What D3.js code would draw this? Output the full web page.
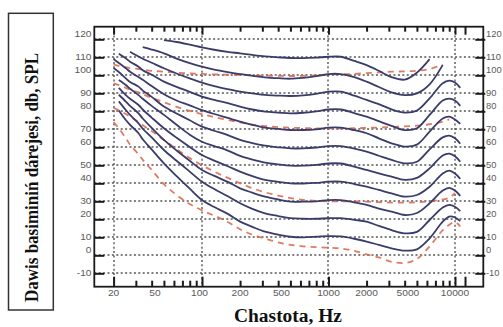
<!DOCTYPE html>
<html><head><meta charset="utf-8">
<script src="https://cdn.jsdelivr.net/npm/d3@7"></script>
<style>html,body{margin:0;padding:0;background:#fff;}svg{display:block}</style>
</head><body>
<svg id="chart" width="503" height="327"></svg>
<script>
// frequency grid (Hz)
const freqHz = [20,22,25,27,31.5,34,40,50,63,80,100,125,160,200,250,315,400,500,630,800,1000,1250,1600,2000,2500,3150,4000,5000,6300,8000,9000,10000,11000];
const _ = null;
// solid contours (dB SPL)
const phon110 = [_,_,_,_,_,_,_,119.6,118.5,117,115.5,114.2,113,112.2,111.3,110.5,110,109.6,109.5,109.8,110.3,110.3,108,105.7,102.5,99,97.6,101.5,109,_,_,_,_];
const phon100 = [_,_,_,_,_,115.6,114.3,112.2,109.3,106.8,104.8,103.2,101.8,100.7,99.7,98.9,98.4,98.1,98.6,99.5,100.7,100.7,99,96.5,93.5,90.5,89,90,95,105.8,_,_,_];
const phon90  = [_,_,_,113.1,110.4,109.2,107,103.9,101,98.3,95.9,94,92.3,90.9,90,89.1,88.7,88.5,88.8,89.7,90.9,90.9,88.7,86.3,84,81.1,79.3,80.4,87.2,95.6,97,96,93];
const phon80  = [_,112,109.4,107.5,104.8,102.8,100.3,96.5,93.6,90.8,88.1,86.3,84.5,82.6,81,79.8,79.3,78.9,79.2,80,81,81,79,77,74.5,71.9,69.6,70.6,78,86,87,86,83];
const phon70  = [109,106.8,103.9,102,99,97.5,94,89.5,86,83.3,80.7,78.5,76.3,74.3,72.5,70.9,70.2,69.6,69.6,70,70.9,70.9,69.5,67.8,65,62.2,60.4,61.5,68.7,76,77,75.5,73];
const phon60  = [104,101.8,98.3,96.3,93.7,91.5,88,82.6,78.8,75,71.5,69.2,66.8,64.1,62.3,60.9,60,59.4,59.4,59.9,60.7,60.7,59.3,57.6,55.3,53,51.1,52,58.9,65.5,66.5,65,62];
const phon50  = [_,97.4,94.6,92.5,89,87,83,78,72.5,67,63.1,60.7,58.2,55.2,53.2,51.5,50.5,49.8,49.8,50.2,51,51,49.3,47.4,45.5,43.7,41.9,43,48.3,55.5,56.5,55,52];
const phon40  = [_,93,89,87,83.5,81,76.5,70.6,65.3,60.2,55.7,52.6,49.5,46.5,44,41.9,40.8,40,39.9,40.2,40.9,40.9,39.6,38.1,36.3,34.4,32.6,33.5,38.1,45.5,47,45.5,42.5];
const phon30  = [_,89.2,85.4,83,78.9,76,70.8,64.1,58.2,52.5,47.4,44.1,40.8,37.2,34.8,32.6,31,29.8,29.8,30,30.7,30.7,29.4,28,26,24.3,22.4,23.5,28.9,36,37.5,36,33];
const phon20  = [_,85.5,80.7,78,73.3,70.3,65.5,58.5,52.5,46.5,40.9,36.8,32.8,28.9,25.8,23.3,21.8,20.6,20.3,20.3,20.6,20.6,19.7,18.7,16.3,14,12.2,13,19.6,26.5,28,27,24.5];
const phon10  = [_,80.5,75.2,72.5,67.8,64.5,58.8,51.1,44,37,30.7,26.8,23,18.7,15.8,13.1,11.5,10.3,10,10.3,10.7,10.5,9.2,7.6,5.8,3.9,2.6,3.3,9.4,18.7,21.5,21,19];
// dashed contours (dB SPL)
const dash100 = [106,105.2,104.5,104,103.5,103.2,102.5,102,101.5,101,100.8,100.5,100.3,100.2,100,99.8,99.7,99.6,99.7,100,100.5,100.6,100.8,101.2,101.6,102,102.2,102.5,103.5,105.8,_,_,_];
const dash70  = [95.5,94.5,93,92,90.5,89.5,87.5,85,82.5,80.2,78.5,76.8,75.2,73.8,72.6,71.8,71.2,70.9,70.7,70.5,70.5,70.5,70.6,70.8,71,71.3,71.6,72,72.8,74.3,75.5,_,_];
const dash30  = [82,80.5,78.5,77,74,72.3,69,64,59,54,50,46.5,43,40,37.3,35,33.2,31.8,30.8,30.2,30,30,30,29.8,29.5,29.3,29.3,29.5,30,31,32,34.5,_];
const dash0   = [74,70.5,65,61.5,56,53,47.5,39.5,33.5,28.5,25,22,18.5,14.5,11.5,9.3,7.2,5.8,5,4.5,4.2,3.8,2.5,0.5,-1.2,-3.6,-4.3,-2,5,14,17,18.5,16];

const solidSeries = [phon110,phon100,phon90,phon80,phon70,phon60,phon50,phon40,phon30,phon20,phon10];
const dashedSeries = [dash100,dash70,dash30,dash0];

// axis ticks / labels
const yTicks = [120,110,100,90,80,70,60,50,40,30,20,10,0,-10];
const xLabels = [20,50,100,200,500,1000,2000,5000,10000];
const xGrid = [20,100,1000,10000];
const xMajorTicks = [20,100,1000,10000,12000];
const xMinorTicks = [30,40,50,60,70,80,90,200,300,400,500,600,700,800,900,2000,3000,4000,5000,6000,7000,8000,9000];
const yTitle = "Dawis basiminiń dárejesi, db, SPL";
const xTitle = "Chastota, Hz";

const svg = d3.select("#chart");
const L = 94.3, R = 483.3, T = 26.7, B = 286.7;
const x = d3.scaleLog().domain([14.08, 16740]).range([L, R]);
const y = d3.scaleLinear().domain([-17.44, 127]).range([B, T]);

// grid
const grid = svg.append("g").attr("stroke", "#555").attr("stroke-width", 1.4).attr("stroke-dasharray", "2,2.4");
grid.selectAll("line.h").data(yTicks).join("line").attr("class","h")
  .attr("x1", L).attr("x2", R).attr("y1", d => Math.round(y(d))).attr("y2", d => Math.round(y(d)));
grid.selectAll("line.v").data(xGrid).join("line").attr("class","v")
  .attr("y1", T).attr("y2", B).attr("x1", d => Math.round(x(d))).attr("x2", d => Math.round(x(d)));

// curves
const line = d3.line()
  .defined(d => d[1] !== null)
  .x(d => x(d[0])).y(d => y(d[1]))
  .curve(d3.curveCatmullRom.alpha(0.5));
const toPts = arr => freqHz.map((f, i) => [f, arr[i]]);

svg.append("g").selectAll("path").data(dashedSeries).join("path")
  .attr("d", d => line(toPts(d)))
  .attr("fill", "none").attr("stroke", "#dc6d52").attr("stroke-width", 1.8)
  .attr("stroke-dasharray", "6,5").attr("opacity", 0.9);

svg.append("g").selectAll("path").data(solidSeries).join("path")
  .attr("d", d => line(toPts(d)))
  .attr("fill", "none").attr("stroke", "#3a3c6a").attr("stroke-width", 1.8);

// frame
svg.append("rect").attr("x", L).attr("y", T).attr("width", R - L).attr("height", B - T)
  .attr("fill", "none").attr("stroke", "#1a1a1a").attr("stroke-width", 1.8);

// tick marks via axes
function styleTicks(g){ g.select(".domain").remove(); g.selectAll("line").attr("stroke","#1a1a1a").attr("stroke-width",2); g.selectAll("text").remove(); }
svg.append("g").attr("transform", `translate(0,${B})`)
  .call(d3.axisBottom(x).tickValues(xMajorTicks).tickSize(-10).tickFormat("")).call(styleTicks);
svg.append("g").attr("transform", `translate(0,${B})`)
  .call(d3.axisBottom(x).tickValues(xMinorTicks).tickSize(-6).tickFormat("")).call(styleTicks);
svg.append("g").attr("transform", `translate(0,${T})`)
  .call(d3.axisTop(x).tickValues(xMajorTicks).tickSize(-8).tickFormat("")).call(styleTicks);
svg.append("g").attr("transform", `translate(0,${T})`)
  .call(d3.axisTop(x).tickValues(xMinorTicks).tickSize(-5).tickFormat("")).call(styleTicks);
svg.append("g").attr("transform", `translate(${L},0)`)
  .call(d3.axisLeft(y).tickValues(yTicks).tickSize(-10).tickFormat("")).call(styleTicks);
svg.append("g").attr("transform", `translate(${R+2},0)`)
  .call(d3.axisRight(y).tickValues(yTicks).tickSize(-10).tickFormat("")).call(styleTicks);

// tick labels
const lab = svg.append("g").attr("font-family", "Liberation Sans, Arial, sans-serif")
  .attr("font-size", 10.2).attr("fill", "#5a5a5a");
const yOff = v => (v % 20 === 0 ? -5.3 : 0);
lab.selectAll("text.yl").data(yTicks).join("text").attr("class","yl")
  .attr("text-anchor", "end")
  .attr("transform", d => `translate(91.5,${y(d) + yOff(d)}) scale(1,0.8)`)
  .attr("dy", "0.36em").text(d => d);
lab.selectAll("text.yr").data(yTicks).join("text").attr("class","yr")
  .attr("text-anchor", "start")
  .attr("transform", d => `translate(486,${y(d) + yOff(d)}) scale(0.92,0.8)`)
  .attr("dy", "0.36em").text(d => d);
const xOff = v => (String(v)[0] === "5" ? -9 : (v === 100 ? -2.5 : 0));
lab.selectAll("text.xl").data(xLabels).join("text").attr("class","xl")
  .attr("text-anchor", "middle")
  .attr("transform", d => `translate(${x(d) + xOff(d)},293.5) scale(1,0.8)`)
  .attr("dy", "0.36em").text(d => d);

// titles
svg.append("rect").attr("x", 8.5).attr("y", 13.3).attr("width", 44.8).attr("height", 296.7)
  .attr("fill", "none").attr("stroke", "#333").attr("stroke-width", 1.5);
svg.append("text").attr("transform", "translate(37.5,177.5) rotate(-90)")
  .attr("text-anchor", "middle").attr("font-family", "Liberation Serif, Times New Roman, serif")
  .attr("font-weight", "bold").attr("font-size", 19).attr("fill", "#111")
  .attr("textLength", 249).attr("lengthAdjust", "spacingAndGlyphs").text(yTitle);
svg.append("text").attr("x", 288).attr("y", 322)
  .attr("text-anchor", "middle").attr("font-family", "Liberation Serif, Times New Roman, serif")
  .attr("font-weight", "bold").attr("font-size", 18.5).attr("fill", "#111")
  .attr("textLength", 108).attr("lengthAdjust", "spacingAndGlyphs").text(xTitle);
</script>
</body></html>
